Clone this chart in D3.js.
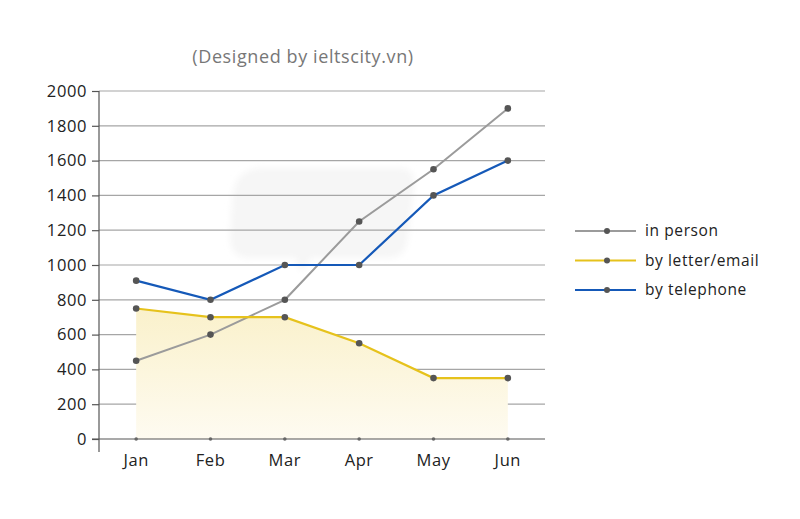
<!DOCTYPE html>
<html><head><meta charset="utf-8">
<script src="https://cdn.jsdelivr.net/npm/d3@7"></script>
<style>body{margin:0;background:#fff}svg{display:block}text{font-family:"Open Sans",sans-serif;letter-spacing:0.6px}</style>
</head><body>
<svg id="c" width="800" height="519"></svg>
<script>
const months = ["Jan","Feb","Mar","Apr","May","Jun"];
const inPerson = [450,600,800,1250,1550,1900];
const byLetter = [750,700,700,550,350,350];
const byPhone = [910,800,1000,1000,1400,1600];
const yTicks = [0,200,400,600,800,1000,1200,1400,1600,1800,2000];
const seriesNames = ["in person","by letter/email","by telephone"];
const title = "(Designed by ieltscity.vn)";

const svg = d3.select("#c");
const L = 99, R = 545, T = 91, B = 439;
const x = d3.scaleBand().domain(months).range([L, R]).padding(0);
const cx = m => x(m) + x.bandwidth()/2;
const y = d3.scaleLinear().domain([0,2000]).range([B, T]);

const defs = svg.append("defs");
const g1 = defs.append("linearGradient").attr("id","fillG").attr("x1",0).attr("y1",0).attr("x2",0).attr("y2",1);
g1.append("stop").attr("offset","0%").attr("stop-color","#faf1cb");
g1.append("stop").attr("offset","100%").attr("stop-color","#fefbf1");
defs.append("filter").attr("id","blur").append("feGaussianBlur").attr("stdDeviation",3);

svg.append("path")
  .attr("d","M262,168 L400,168 Q416,168 414,186 L408,238 Q406,258 388,258 L312,258 L300,272 L296,258 L250,258 Q230,258 230,238 L232,200 Q234,168 262,168 Z")
  .attr("fill","#f6f6f6").attr("filter","url(#blur)");

svg.append("text").attr("x",303).attr("y",63).attr("text-anchor","middle")
  .attr("font-size",18).attr("fill","#777").text(title);

svg.append("g").selectAll("line").data(yTicks.filter(d=>d>0)).join("line")
  .attr("x1",L).attr("x2",R).attr("y1",d=>y(d)).attr("y2",d=>y(d))
  .attr("stroke","#a6a6a6").attr("stroke-width",1.2);

const area = d3.area().x((d,i)=>cx(months[i])).y0(y(0)).y1(d=>y(d));
svg.append("path").datum(byLetter).attr("d",area).attr("fill","url(#fillG)");

const yAxis = d3.axisLeft(y).tickValues(yTicks).tickFormat(d3.format("d")).tickSize(7).tickPadding(5);
const ga = svg.append("g").attr("transform",`translate(${L},0)`).call(yAxis);
ga.select(".domain").attr("d",`M0,${T}V${B+13}`).attr("stroke","#555").attr("stroke-width",1.2);
ga.selectAll(".tick line").attr("stroke","#555").attr("stroke-width",1.2);
ga.selectAll(".tick text").attr("font-size",16.5).attr("fill","#222").attr("font-family","'Open Sans',sans-serif");

const xAxis = d3.axisBottom(x).tickSize(0).tickPadding(15);
const gx = svg.append("g").attr("transform",`translate(0,${B})`).call(xAxis);
gx.select(".domain").attr("d",`M${L-7},0H${R}`).attr("stroke","#555").attr("stroke-width",1.2);
gx.selectAll(".tick text").attr("font-size",16.5).attr("fill","#222").attr("font-family","'Open Sans',sans-serif");
svg.append("g").selectAll("circle").data(months).join("circle")
  .attr("cx",d=>cx(d)).attr("cy",B).attr("r",1.8).attr("fill","#666");

const series = [
  {name:seriesNames[0], vals:inPerson, color:"#9b9b9b", w:2},
  {name:seriesNames[1], vals:byLetter, color:"#e6c21c", w:2.2},
  {name:seriesNames[2], vals:byPhone, color:"#1559b8", w:2.2}
];
const line = d3.line().x((d,i)=>cx(months[i])).y(d=>y(d));
series.forEach(s=>{
  svg.append("path").datum(s.vals).attr("d",line).attr("fill","none")
    .attr("stroke",s.color).attr("stroke-width",s.w);
});
series.forEach(s=>{
  svg.append("g").selectAll("circle").data(s.vals).join("circle")
    .attr("cx",(d,i)=>cx(months[i])).attr("cy",d=>y(d)).attr("r",3.3).attr("fill","#555");
});

const lg = svg.append("g");
series.forEach((s,i)=>{
  const yy = 231 + i*29.5;
  lg.append("line").attr("x1",575).attr("x2",636).attr("y1",yy).attr("y2",yy)
    .attr("stroke",s.color).attr("stroke-width",s.w);
  lg.append("circle").attr("cx",607).attr("cy",yy).attr("r",3).attr("fill","#555");
  lg.append("text").attr("x",645).attr("y",yy+5).attr("font-size",15.5).attr("fill","#222").text(s.name);
});
</script>
</body></html>
